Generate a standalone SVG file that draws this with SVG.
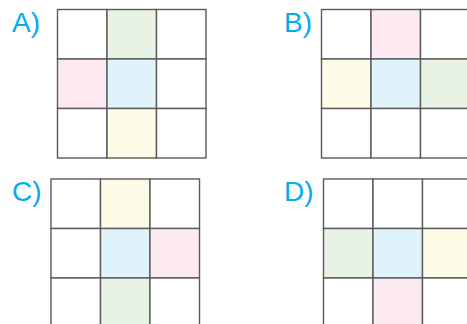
<svg xmlns="http://www.w3.org/2000/svg" width="467" height="324" viewBox="0 0 467 324">
<style>
.lbl{font-family:"Liberation Sans",Arial,sans-serif;font-size:28px;fill:#00AEEF}
.c{stroke:#5a5a5a;stroke-width:1.4;fill:#fff}
.g{fill:#E8F2E5}.p{fill:#FCE9F1}.b{fill:#E0F2FA}.y{fill:#FEFBE9}
</style>
<rect width="467" height="324" fill="#fff"/>
<g id="A">
<text class="lbl" x="12" y="32">A)</text>
<g transform="translate(57.5,9.5)">
<rect class="c" x="0" y="0" width="49.5" height="49.5"/>
<rect class="c g" x="49.5" y="0" width="49.5" height="49.5"/>
<rect class="c" x="99" y="0" width="49.5" height="49.5"/>
<rect class="c p" x="0" y="49.5" width="49.5" height="49.5"/>
<rect class="c b" x="49.5" y="49.5" width="49.5" height="49.5"/>
<rect class="c" x="99" y="49.5" width="49.5" height="49.5"/>
<rect class="c" x="0" y="99" width="49.5" height="49.5"/>
<rect class="c y" x="49.5" y="99" width="49.5" height="49.5"/>
<rect class="c" x="99" y="99" width="49.5" height="49.5"/>
</g>
</g>
<g id="B">
<text class="lbl" x="284" y="32">B)</text>
<g transform="translate(321.5,9.5)">
<rect class="c" x="0" y="0" width="49.5" height="49.5"/>
<rect class="c p" x="49.5" y="0" width="49.5" height="49.5"/>
<rect class="c" x="99" y="0" width="49.5" height="49.5"/>
<rect class="c y" x="0" y="49.5" width="49.5" height="49.5"/>
<rect class="c b" x="49.5" y="49.5" width="49.5" height="49.5"/>
<rect class="c g" x="99" y="49.5" width="49.5" height="49.5"/>
<rect class="c" x="0" y="99" width="49.5" height="49.5"/>
<rect class="c" x="49.5" y="99" width="49.5" height="49.5"/>
<rect class="c" x="99" y="99" width="49.5" height="49.5"/>
</g>
</g>
<g id="C">
<text class="lbl" x="12" y="201">C)</text>
<g transform="translate(51,179)">
<rect class="c" x="0" y="0" width="49.5" height="49.5"/>
<rect class="c y" x="49.5" y="0" width="49.5" height="49.5"/>
<rect class="c" x="99" y="0" width="49.5" height="49.5"/>
<rect class="c" x="0" y="49.5" width="49.5" height="49.5"/>
<rect class="c b" x="49.5" y="49.5" width="49.5" height="49.5"/>
<rect class="c p" x="99" y="49.5" width="49.5" height="49.5"/>
<rect class="c" x="0" y="99" width="49.5" height="49.5"/>
<rect class="c g" x="49.5" y="99" width="49.5" height="49.5"/>
<rect class="c" x="99" y="99" width="49.5" height="49.5"/>
</g>
</g>
<g id="D">
<text class="lbl" x="284" y="201">D)</text>
<g transform="translate(323.5,179)">
<rect class="c" x="0" y="0" width="49.5" height="49.5"/>
<rect class="c" x="49.5" y="0" width="49.5" height="49.5"/>
<rect class="c" x="99" y="0" width="49.5" height="49.5"/>
<rect class="c g" x="0" y="49.5" width="49.5" height="49.5"/>
<rect class="c b" x="49.5" y="49.5" width="49.5" height="49.5"/>
<rect class="c y" x="99" y="49.5" width="49.5" height="49.5"/>
<rect class="c" x="0" y="99" width="49.5" height="49.5"/>
<rect class="c p" x="49.5" y="99" width="49.5" height="49.5"/>
<rect class="c" x="99" y="99" width="49.5" height="49.5"/>
</g>
</g>
</svg>
